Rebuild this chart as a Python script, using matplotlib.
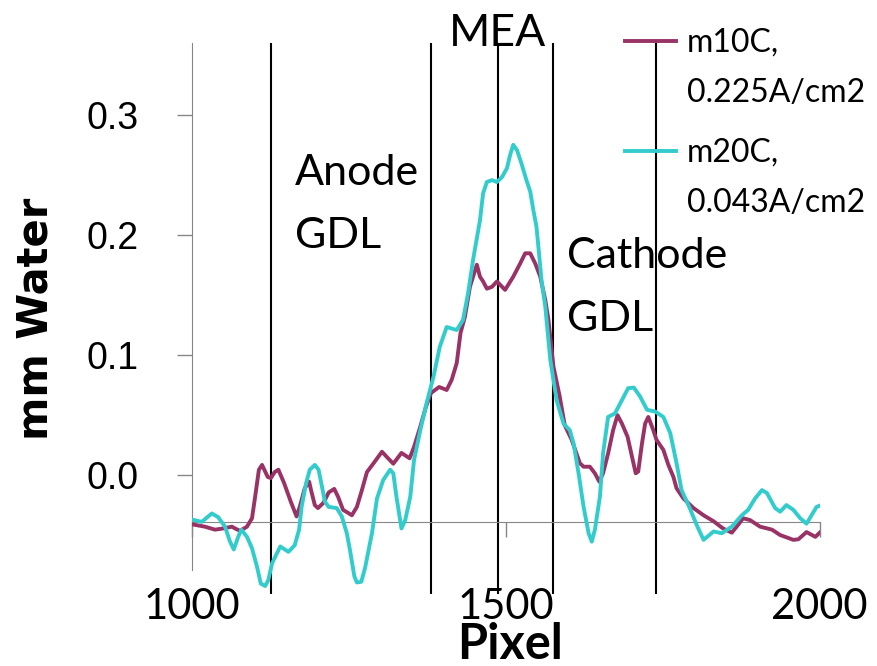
import numpy as np
import matplotlib
matplotlib.use("Agg")
import matplotlib.pyplot as plt

# water thickness profiles (mm water vs pixel)
pixel_m10 = [1000, 1021, 1037, 1050, 1064, 1069, 1077, 1088, 1096, 1101, 1107, 1112, 1121, 1126,
             1132, 1138, 1147, 1158, 1167, 1172, 1180, 1187, 1190, 1196, 1201, 1210, 1218, 1227,
             1233, 1241, 1249, 1255, 1263, 1271, 1279, 1289, 1303, 1310, 1321, 1334, 1347, 1354,
             1364, 1373, 1381, 1394, 1406, 1414, 1422, 1428, 1435, 1443, 1454, 1459, 1464, 1470,
             1478, 1486, 1499, 1512, 1523, 1531, 1539, 1547, 1555, 1563, 1568, 1576, 1586, 1594,
             1605, 1618, 1624, 1634, 1642, 1649, 1655, 1663, 1671, 1678, 1685, 1694, 1701, 1707,
             1711, 1717, 1722, 1727, 1735, 1740, 1751, 1759, 1767, 1772, 1783, 1799, 1815, 1831,
             1846, 1860, 1870, 1878, 1889, 1905, 1924, 1937, 1958, 1966, 1979, 1993, 2000]
water_m10 = [-0.0415, -0.0435, -0.046, -0.045, -0.0435, -0.045, -0.047, -0.0435, -0.0365, -0.0185,
             0.004, 0.008, -0.002, -0.003, 0.002, 0.004, -0.007, -0.023, -0.035, -0.027, -0.0115,
             -0.006, -0.013, -0.0255, -0.028, -0.0235, -0.015, -0.012, -0.0185, -0.0295, -0.032,
             -0.034, -0.027, -0.013, 0.002, 0.009, 0.019, 0.015, 0.009, 0.018, 0.0135, 0.023, 0.040,
             0.0565, 0.068, 0.073, 0.0705, 0.079, 0.093, 0.118, 0.1315, 0.1565, 0.175, 0.165, 0.161,
             0.155, 0.1565, 0.161, 0.154, 0.165, 0.176, 0.1845, 0.1845, 0.176, 0.165, 0.1455, 0.129,
             0.090, 0.065, 0.041, 0.029, 0.0095, 0.0065, 0.0065, 0.001, -0.006, 0.001, 0.0175, 0.037,
             0.0495, 0.0425, 0.0315, 0.015, 0.001, 0.0025, 0.026, 0.0425, 0.048, 0.037, 0.029, 0.0205,
             0.008, -0.002, -0.0115, -0.020, -0.028, -0.034, -0.039, -0.045, -0.0485, -0.042, -0.0365,
             -0.038, -0.0435, -0.046, -0.0505, -0.0545, -0.054, -0.048, -0.052, -0.0485]

pixel_m20 = [1000, 1016, 1032, 1042, 1053, 1061, 1067, 1074, 1079, 1088, 1096, 1104, 1110, 1117,
             1122, 1128, 1141, 1154, 1164, 1171, 1175, 1182, 1188, 1196, 1202, 1207, 1212, 1218,
             1231, 1239, 1247, 1252, 1259, 1263, 1270, 1276, 1287, 1295, 1305, 1316, 1321, 1326,
             1334, 1340, 1348, 1354, 1364, 1374, 1385, 1395, 1406, 1422, 1432, 1440, 1448, 1459,
             1464, 1470, 1478, 1486, 1494, 1502, 1507, 1512, 1518, 1525, 1533, 1539, 1544, 1549,
             1553, 1557, 1563, 1571, 1581, 1592, 1602, 1608, 1616, 1624, 1632, 1637, 1642, 1650,
             1655, 1663, 1674, 1685, 1695, 1704, 1714, 1725, 1738, 1751, 1762, 1772, 1780, 1793,
             1804, 1815, 1831, 1844, 1860, 1876, 1886, 1897, 1908, 1916, 1929, 1937, 1947, 1958,
             1969, 1979, 1987, 1995, 2000]
water_m20 = [-0.0375, -0.0395, -0.0325, -0.0355, -0.0435, -0.056, -0.0625, -0.052, -0.046, -0.052,
             -0.0615, -0.077, -0.091, -0.093, -0.088, -0.074, -0.060, -0.0645, -0.059, -0.046,
             -0.027, -0.0075, 0.004, 0.008, 0.004, -0.009, -0.0225, -0.027, -0.028, -0.035, -0.049,
             -0.063, -0.085, -0.090, -0.0895, -0.078, -0.049, -0.020, -0.0045, 0.004, 0.001, -0.0185,
             -0.045, -0.038, -0.0185, 0.012, 0.037, 0.0595, 0.0815, 0.1065, 0.123, 0.1205, 0.129,
             0.151, 0.179, 0.212, 0.2345, 0.244, 0.2455, 0.244, 0.248, 0.2555, 0.2665, 0.275, 0.2705,
             0.2595, 0.2455, 0.236, 0.2205, 0.2065, 0.1845, 0.162, 0.140, 0.0955, 0.062, 0.0425,
             0.037, 0.026, 0.001, -0.027, -0.049, -0.056, -0.046, -0.0185, 0.0175, 0.048, 0.051,
             0.062, 0.072, 0.0725, 0.065, 0.054, 0.0525, 0.048, 0.0345, 0.0095, -0.013, -0.028,
             -0.042, -0.0545, -0.0475, -0.049, -0.0435, -0.034, -0.0295, -0.020, -0.013, -0.0155,
             -0.028, -0.031, -0.0255, -0.0295, -0.0365, -0.041, -0.034, -0.027, -0.026]

# layer boundaries (pixel)
boundaries = [1126, 1381, 1487, 1575, 1739]

series_labels = ["m10C,\n0.225A/cm2", "m20C,\n0.043A/cm2"]
series_colors = ["#993366", "#33CCCC"]
yticks = [0.0, 0.1, 0.2, 0.3]
xticks = [1000, 1500, 2000]

axis_grey = "#868686"

fig = plt.figure(figsize=(8.77, 6.66), dpi=100)
ax = fig.add_axes([0.2186, 0.1075, 0.7161, 0.8281])

for b in boundaries:
    ax.axvline(b, color="black", lw=1.5, zorder=1)

ax.plot(pixel_m10, water_m10, color=series_colors[0], lw=2.8, label=series_labels[0], zorder=3)
ax.plot(pixel_m20, water_m20, color=series_colors[1], lw=2.8, label=series_labels[1], zorder=3)

ax.set_xlim(1000, 2000)
ax.set_ylim(-0.1, 0.36)

ax.spines["top"].set_visible(False)
ax.spines["right"].set_visible(False)
ax.spines["left"].set_color(axis_grey)
ax.spines["left"].set_bounds(-0.08, 0.36)
ax.spines["bottom"].set_position(("data", -0.04))
ax.spines["bottom"].set_color(axis_grey)

ax.set_yticks(yticks)
ax.set_yticklabels([f"{v:.1f}" for v in yticks], fontfamily="Liberation Sans", fontsize=27)
ax.tick_params(axis="y", length=11, width=1, color=axis_grey, pad=27)

ax.set_xticks(xticks)
ax.set_xticklabels([str(v) for v in xticks], fontfamily="Lato", fontsize=30)
ax.tick_params(axis="x", length=11, width=1, color=axis_grey, pad=36)

ax.set_ylabel("mm Water", fontfamily="DejaVu Sans", fontweight="bold", fontsize=30)
ax.yaxis.set_label_coords(-0.215, 0.5)
ax.set_xlabel("Pixel", fontfamily="Lato", fontweight="bold", fontsize=35)
ax.xaxis.set_label_coords(0.507, -0.05)

ax.text(1487, 0.357, "MEA", ha="center", va="baseline", fontfamily="Lato", fontsize=32,
        clip_on=False)
ax.text(1164, 0.267, "Anode\nGDL", ha="left", va="top", fontfamily="Lato", fontsize=31,
        linespacing=1.8)
ax.text(1598, 0.198, "Cathode\nGDL", ha="left", va="top", fontfamily="Lato", fontsize=31,
        linespacing=1.8)

leg = ax.legend(loc="upper left", bbox_to_anchor=(0.7125, 0.958), bbox_transform=fig.transFigure,
                frameon=False, borderpad=0, borderaxespad=0, handlelength=1.6, handletextpad=0.35,
                labelspacing=0.92, prop={"family": "Lato", "size": 23})
for t in leg.get_texts():
    t.set_linespacing(1.85)
# put the legend line next to the first text line instead of the middle
for ln in leg.legend_handles:
    ln.set_ydata(np.asarray(ln.get_ydata()) + 20)
    ln.set_linewidth(2.8)

fig.savefig("out.png", dpi=100)
